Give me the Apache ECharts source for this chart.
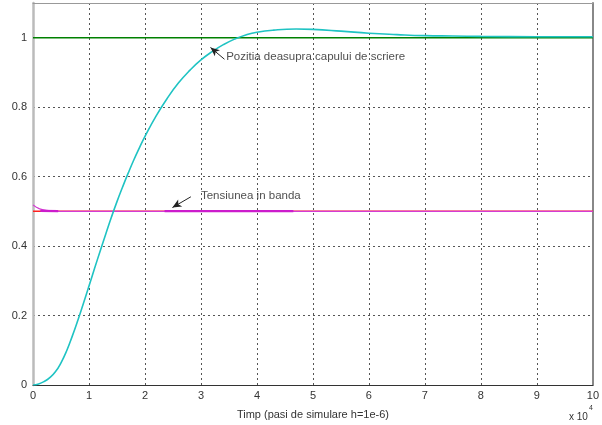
<!DOCTYPE html>
<html>
<head>
<meta charset="utf-8">
<script src="https://cdn.jsdelivr.net/npm/echarts@6/dist/echarts.min.js"></script>
<style>html,body{margin:0;padding:0;background:#fff}#c{width:602px;height:425px}</style>
</head>
<body>
<div id="c"></div>
<script>
// x values in units of 10^4 simulation steps
var positionData = [[0,0],[0.1,0.003],[0.2,0.010],[0.3,0.021],[0.4,0.038],[0.5,0.064],[0.6,0.098],[0.7,0.140],[0.8,0.186],[0.9,0.235],[1.0,0.285],[1.1,0.336],[1.2,0.386],[1.3,0.435],[1.4,0.483],[1.5,0.528],[1.6,0.570],[1.7,0.610],[1.8,0.648],[1.9,0.683],[2.0,0.716],[2.2,0.775],[2.4,0.826],[2.6,0.870],[2.8,0.906],[3.0,0.936],[3.2,0.960],[3.4,0.980],[3.6,0.996],[3.8,1.008],[4.0,1.016],[4.3,1.022],[4.7,1.025],[5.0,1.024],[5.5,1.019],[6.0,1.013],[6.5,1.009],[7.0,1.006],[7.5,1.005],[8,1.004],[9,1.003],[10,1.003]];
var voltageData = [[0,0.518],[0.06,0.512],[0.12,0.507],[0.24,0.503],[0.35,0.501],[0.44,0.5],[10,0.5]];
var voltageThick = [[0.13,0.5015],[0.45,0.5005],[0.46,'-'],[2.35,0.5005],[4.65,0.5005]];
var referencePos = [[0,1],[10,1]];
var referenceVolt = [[0,0.5],[10,0.5]];
var xTicks = [0,1,2,3,4,5,6,7,8,9,10];
var yTicks = [0,0.2,0.4,0.6,0.8,1];
var labelNames = ['Pozitia deasupra capului de scriere','Tensiunea in banda'];
var labelPos = [[3.45,0.944],[3.0,0.545]];
var arrowTails = [[3.42,0.938],[2.82,0.542]];
var arrowHeads = [[3.17,0.972],[2.49,0.511]];

var font = "'Liberation Sans', Arial, sans-serif";
var chart = echarts.init(document.getElementById('c'));
var gridLine = {show:true, lineStyle:{color:'#555', type:[2,3], width:1}};
chart.setOption({
  animation:false,
  grid:{left:33, right:7, top:3, bottom:36},
  xAxis:[{
    type:'value', min:0, max:10, interval:1, position:'bottom',
    axisLine:{show:true, onZero:false, lineStyle:{color:'#333', width:1}},
    axisTick:{show:false},
    axisLabel:{color:'#333', fontFamily:font, fontSize:11, margin:5,
      formatter:function(v){return xTicks.indexOf(v)>=0 ? String(v) : '';}},
    splitLine:gridLine,
    name:'Timp (pasi de simulare h=1e-6)', nameLocation:'middle', nameGap:24,
    nameTextStyle:{color:'#333', fontFamily:font, fontSize:11}
  },{
    type:'value', min:0, max:10, position:'top',
    axisLine:{show:true, onZero:false, lineStyle:{color:'#999', width:1}},
    axisTick:{show:false}, axisLabel:{show:false}, splitLine:{show:false}
  }],
  yAxis:[{
    type:'value', min:0, max:1.1, interval:0.2, position:'left',
    axisLine:{show:true, onZero:false, lineStyle:{color:'#bbb', width:2.5}},
    axisTick:{show:false},
    axisLabel:{color:'#333', fontFamily:font, fontSize:11, margin:6, showMaxLabel:false,
      formatter:function(v){var r=Math.round(v*10)/10; return yTicks.indexOf(r)>=0 ? String(r) : '';}},
    splitLine:gridLine
  },{
    type:'value', min:0, max:1.1, position:'right',
    axisLine:{show:true, onZero:false, lineStyle:{color:'#888', width:2}},
    axisTick:{show:false}, axisLabel:{show:false}, splitLine:{show:false}
  }],
  series:[
    {type:'line', data:referencePos, symbol:'none', lineStyle:{color:'#008000', width:1.5}, z:2},
    {type:'line', data:referenceVolt, symbol:'none', lineStyle:{color:'#ff2020', width:1.5}, z:2},
    {type:'line', data:voltageData, symbol:'none', smooth:0.3, lineStyle:{color:'#d43cd4', width:1.2}, z:3},
    {type:'line', data:voltageThick, symbol:'none', connectNulls:false, lineStyle:{color:'#cc1ccc', width:2.2}, z:3},
    {type:'line', data:positionData, symbol:'none', smooth:true, lineStyle:{color:'#1fc3c3', width:1.6}, z:4,
      markLine:{silent:true, symbol:['none','arrow'], symbolSize:[6,9], animation:false,
        lineStyle:{color:'#222', width:1, type:'solid'}, label:{show:false},
        data:arrowTails.map(function(t,i){return [{coord:t},{coord:arrowHeads[i]}];})}},
    {type:'scatter', symbolSize:0, z:5,
      data:labelPos.map(function(p,i){return {value:p, name:labelNames[i]};}),
      label:{show:true, position:'right', distance:0, color:'#222', fontFamily:font, fontSize:11.5,
        formatter:function(p){return p.name;}}}
  ],
  graphic:[
    {type:'text', left:569, top:412, style:{text:'x 10', font:'10px '+font, fill:'#333'}},
    {type:'text', left:589, top:405, style:{text:'4', font:'7px '+font, fill:'#333'}}
  ]
});
</script>
</body>
</html>
